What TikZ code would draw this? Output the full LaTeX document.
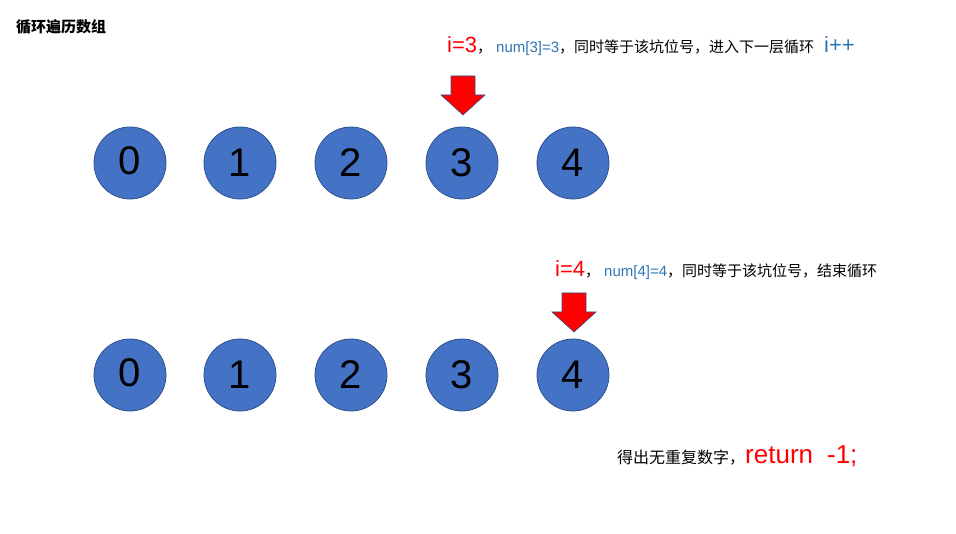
\documentclass[tikz,border=0pt]{standalone}
\usepackage{fontspec}
\setmainfont{Liberation Sans}
\newfontfamily\cjk{Noto Sans CJK SC}
\definecolor{cfill}{HTML}{4472C4}
\definecolor{cline}{HTML}{2F528F}
\definecolor{tblue}{HTML}{2E75B6}
\definecolor{tred}{HTML}{FF0000}
\begin{document}
\begin{tikzpicture}[x=1pt,y=-1pt,
  ball/.style={circle,draw=cline,line width=0.8pt,fill=cfill,minimum size=72pt,inner sep=0pt,font=\fontsize{40}{40}\selectfont},
  txt/.style={anchor=base west,inner sep=0pt},
  downarrow/.style={fill=tred,draw=cline,line width=0.6pt}]
\useasboundingbox (0,0) rectangle (956,534);
\node[txt,font=\cjk\bfseries\fontsize{15}{15}\selectfont] (title) at (16,33) {循环遍历数组};
% row 1
\foreach \i/\x in {0/130,1/240,2/351,3/462,4/573}{
  \node[ball] (a\i) at (\x,163) {\raisebox{\ifnum\i=0 4pt\else 0pt\fi}{\i}};
  \node[ball] (b\i) at (\x,375) {\raisebox{\ifnum\i=0 4pt\else 0pt\fi}{\i}};
}
\draw[downarrow] (451,76) -- (475,76) -- (475,95) -- (485,95) -- (463,115) -- (441,95) -- (451,95) -- cycle;
\draw[downarrow] (562,293) -- (586,293) -- (586,312) -- (596,312) -- (574,332) -- (552,312) -- (562,312) -- cycle;
\node[txt] (t1) at (447,53) {\textcolor{tred}{\fontsize{22}{22}\selectfont i=3}\cjk\fontsize{15}{15}\selectfont ，\hspace{4pt}\textcolor{tblue}{\fontspec{Liberation Sans}num[3]=3}，同时等于该坑位号，进入下一层循环\hspace{10pt}\textcolor{tblue}{\fontspec{Liberation Sans}\fontsize{22}{22}\selectfont i++}};
\node[txt] (t2) at (555,277) {\textcolor{tred}{\fontsize{22}{22}\selectfont i=4}\cjk\fontsize{15}{15}\selectfont ，\hspace{4pt}\textcolor{tblue}{\fontspec{Liberation Sans}num[4]=4}，同时等于该坑位号，结束循环};
\node[txt] (t3) at (617,464) {\cjk\fontsize{16}{16}\selectfont 得出无重复数字，\textcolor{tred}{\fontspec{Liberation Sans}\fontsize{26}{26}\selectfont return\hspace{14pt}-1;}};
\end{tikzpicture}
\end{document}
